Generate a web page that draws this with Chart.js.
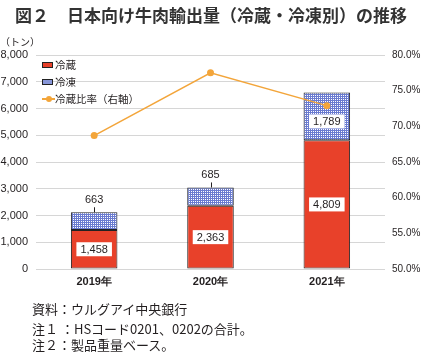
<!DOCTYPE html>
<html><head><meta charset="utf-8">
<script src="https://cdn.jsdelivr.net/npm/chart.js@4"></script>
<style>
html,body{margin:0;padding:0;background:#fff;}
#wrap{position:relative;width:421px;height:355px;overflow:hidden;font-family:"Noto Sans CJK JP","Noto Sans",sans-serif;color:#231f20;}
#c{position:absolute;left:0;top:0;}
.t{position:absolute;white-space:nowrap;}
#title{left:15px;top:2px;font-size:17px;font-weight:bold;color:#333;}
#unit{left:0px;top:34px;font-size:10px;}
.leg{position:absolute;left:42px;font-size:10.5px;white-space:nowrap;line-height:14px;}
.sw{display:inline-block;width:11px;height:6px;border:1px solid #222;box-sizing:border-box;vertical-align:middle;margin-right:2px;margin-top:-2px;}
.note{position:absolute;left:32px;font-size:13px;white-space:nowrap;}
</style></head>
<body><div id="wrap">
<canvas id="c" width="421" height="355"></canvas>
<div class="t" id="title">図２<span style="display:inline-block;width:18px"></span>日本向け牛肉輸出量（冷蔵・冷凍別）の推移</div>
<div class="t" id="unit">（トン）</div>
<div class="leg" style="top:58px"><span class="sw" style="background:#e8412a"></span>冷蔵</div>
<div class="leg" style="top:75px"><span class="sw" id="swb" style="background:#8796d8"></span>冷凍</div>
<div class="leg" style="top:92px"><span style="display:inline-block;position:relative;width:13px;height:6px;vertical-align:middle;margin-top:-2px;"><span style="position:absolute;left:0;top:2px;width:13px;height:1.5px;background:#f3a53a"></span><span style="position:absolute;left:3.5px;top:-0.5px;width:6px;height:6px;border-radius:50%;background:#f3a53a"></span></span>冷蔵比率（右軸）</div>
<div class="note" style="top:299px">資料：ウルグアイ中央銀行</div>
<div class="note" style="top:319px">注１ ：HSコード0201、0202の合計。</div>
<div class="note" style="top:335px">注２：製品重量ベース。</div>
</div>
<script>
const categories = ['2019年','2020年','2021年'];
const chilled = [1458, 2363, 4809];
const frozen = [663, 685, 1789];
const chilledRatio = [68.7, 77.5, 72.9];
const leftTicks = ['0','1,000','2,000','3,000','4,000','5,000','6,000','7,000','8,000'];

function makePattern(){
  const p = document.createElement('canvas');
  p.width = 2; p.height = 2;
  const g = p.getContext('2d');
  g.fillStyle = '#ffffff'; g.fillRect(0,0,2,2);
  g.fillStyle = '#6a7bd0';
  g.fillRect(0,0,2,1); g.fillRect(0,0,1,2);
  return document.getElementById('c').getContext('2d').createPattern(p,'repeat');
}
const pat = makePattern();

const labelPlugin = {
  id:'lbls',
  afterDatasetsDraw(chart){
    const ctx = chart.ctx;
    ctx.save();
    ctx.font = '11px "Liberation Sans", Arial, sans-serif';
    ctx.textAlign = 'center'; ctx.textBaseline = 'middle';
    const m0 = chart.getDatasetMeta(0), m1 = chart.getDatasetMeta(1);
    function box(x,y,txt){
      const w = ctx.measureText(txt).width + 8;
      ctx.fillStyle = '#fff';
      ctx.fillRect(x - w/2, y - 7, w, 14);
      ctx.fillStyle = '#231f20';
      ctx.fillText(txt, x, y+0.5);
    }
    m0.data.forEach((el,i)=>{
      box(el.x, (el.y + el.base)/2, chilled[i].toLocaleString('en-US'));
    });
    m1.data.forEach((el,i)=>{
      const txt = frozen[i].toLocaleString('en-US');
      if (frozen[i] > 1000){
        box(el.x, (el.y + el.base)/2 + 5, txt);
      } else {
        ctx.strokeStyle = '#231f20'; ctx.lineWidth = 1;
        ctx.beginPath(); ctx.moveTo(Math.round(el.x)+0.5, el.y); ctx.lineTo(Math.round(el.x)+0.5, el.y-5); ctx.stroke();
        ctx.fillStyle = '#231f20';
        ctx.fillText(txt, el.x, el.y - 12);
      }
    });
    ctx.restore();
  }
};

new Chart(document.getElementById('c'), {
  data:{
    labels: categories,
    datasets:[
      {type:'bar', label:'冷蔵', data: chilled, backgroundColor:'#e8412a', borderColor:'#222', borderWidth:1, borderSkipped:false, yAxisID:'y', order:2, barPercentage:0.4, categoryPercentage:1},
      {type:'bar', label:'冷凍', data: frozen, backgroundColor: pat, borderColor:'#222', borderWidth:1, borderSkipped:false, yAxisID:'y', order:2, barPercentage:0.4, categoryPercentage:1},
      {type:'line', label:'冷蔵比率（右軸）', data: chilledRatio, borderColor:'#f3a53a', backgroundColor:'#f3a53a', borderWidth:1.5, pointRadius:3.5, pointBackgroundColor:'#f3a53a', pointBorderWidth:0, yAxisID:'y1', order:1, tension:0}
    ]
  },
  options:{
    responsive:false, animation:false,
    layout:{padding:{left:0,right:0,top:55,bottom:61}},
    plugins:{legend:{display:false}, tooltip:{enabled:false}},
    scales:{
      x:{stacked:true, grid:{display:false, drawTicks:false}, border:{display:false},
         ticks:{color:'#231f20', font:{family:'"Liberation Sans", Arial, sans-serif', size:11, weight:'bold'}, padding:6},
         afterFit(s){ s.height = 25; }},
      y:{stacked:true, position:'left', min:0, max:8000,
         grid:{color:'#d6d6d6', drawTicks:false}, border:{display:false},
         ticks:{stepSize:1000, padding:8, color:'#231f20', font:{family:'"Liberation Sans", Arial, sans-serif', size:11},
                callback:(v,i)=>leftTicks[i]},
         afterFit(s){ s.width = 36; }},
      y1:{position:'right', min:50, max:80,
         grid:{display:false, drawTicks:false}, border:{display:false},
         ticks:{stepSize:5, padding:7, color:'#231f20', font:{family:'"Liberation Sans", Arial, sans-serif', size:10},
                callback:(v)=>v.toFixed(1)+'%'},
         afterFit(s){ s.width = 36; }}
    }
  },
  plugins:[labelPlugin]
});
</script>
</body></html>
